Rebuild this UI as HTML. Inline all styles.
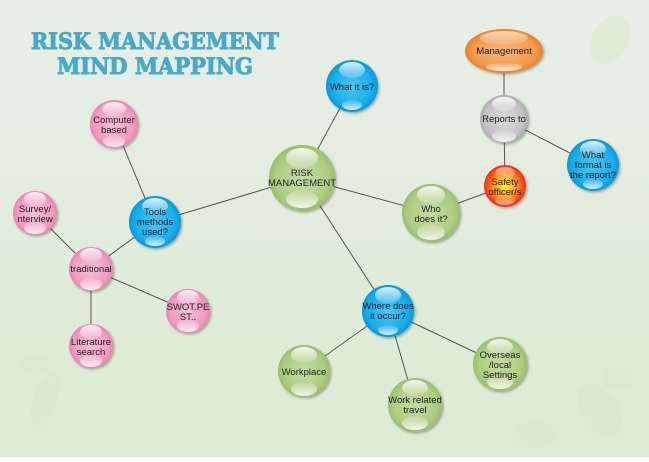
<!DOCTYPE html>
<html><head><meta charset="utf-8"><style>
html,body{margin:0;padding:0;}
body{width:649px;height:457px;overflow:hidden;}
svg text{font-family:"Liberation Sans",sans-serif;font-size:9.5px;fill:#222;text-anchor:middle;}
</style></head><body>
<svg width="649" height="457" viewBox="0 0 649 457" xmlns="http://www.w3.org/2000/svg">
<defs>
<linearGradient id="bg" x1="0" y1="0" x2="0" y2="1"><stop offset="0" stop-color="#e7efe7"/><stop offset="1" stop-color="#dcebd3"/></linearGradient>
<radialGradient id="gPink" cx="0.5" cy="0.5" r="0.5"><stop offset="0" stop-color="#f7bfd7"/><stop offset="0.8" stop-color="#f19cc0"/><stop offset="1" stop-color="#e985b0"/></radialGradient>
<radialGradient id="gBlue" cx="0.5" cy="0.5" r="0.5"><stop offset="0" stop-color="#4cc6f5"/><stop offset="0.8" stop-color="#17acec"/><stop offset="1" stop-color="#0a97d8"/></radialGradient>
<radialGradient id="gGreen" cx="0.5" cy="0.5" r="0.5"><stop offset="0" stop-color="#c6dca2"/><stop offset="0.8" stop-color="#afcc82"/><stop offset="1" stop-color="#9cbd6c"/></radialGradient>
<radialGradient id="gGray" cx="0.5" cy="0.5" r="0.5"><stop offset="0" stop-color="#dcdcdc"/><stop offset="0.8" stop-color="#c4c4c4"/><stop offset="1" stop-color="#adadad"/></radialGradient>
<radialGradient id="gOrange" cx="0.5" cy="0.5" r="0.5"><stop offset="0" stop-color="#f8b57a"/><stop offset="0.8" stop-color="#f39a4e"/><stop offset="1" stop-color="#e8822e"/></radialGradient>
<radialGradient id="gRed" cx="0.5" cy="0.5" r="0.5"><stop offset="0" stop-color="#fff23a"/><stop offset="0.5" stop-color="#ffa020"/><stop offset="1" stop-color="#ee2a1a"/></radialGradient>
<linearGradient id="hl" x1="0" y1="0" x2="0" y2="1"><stop offset="0" stop-color="#fff" stop-opacity="0.85"/><stop offset="1" stop-color="#fff" stop-opacity="0.15"/></linearGradient>
<linearGradient id="hl2" x1="0" y1="0" x2="0" y2="1"><stop offset="0" stop-color="#fff" stop-opacity="0.1"/><stop offset="1" stop-color="#fff" stop-opacity="0.85"/></linearGradient>
<filter id="sh" x="-20%" y="-20%" width="140%" height="140%"><feDropShadow dx="1.5" dy="1.5" stdDeviation="1.2" flood-color="#000" flood-opacity="0.3"/></filter>
</defs>
<rect width="649" height="457" fill="url(#bg)"/>
<g fill="#d6e8c8" opacity="0.45">
<ellipse cx="610" cy="40" rx="18" ry="26" transform="rotate(30 610 40)"/>
<ellipse cx="45" cy="400" rx="12" ry="28" transform="rotate(20 45 400)"/>
<ellipse cx="35" cy="365" rx="14" ry="10"/>
<ellipse cx="600" cy="410" rx="18" ry="30" transform="rotate(-35 600 410)"/>
<ellipse cx="535" cy="435" rx="22" ry="13"/>
<ellipse cx="617" cy="378" rx="16" ry="11"/>
</g>
<text x="155" y="49" style="font-family:'DejaVu Serif',serif;font-size:22px;font-weight:bold;fill:#4aa9c6;stroke:#4aa9c6;stroke-width:1" textLength="248" lengthAdjust="spacingAndGlyphs">RISK MANAGEMENT</text>
<text x="155" y="74" style="font-family:'DejaVu Serif',serif;font-size:22px;font-weight:bold;fill:#4aa9c6;stroke:#4aa9c6;stroke-width:1" textLength="196" lengthAdjust="spacingAndGlyphs">MIND MAPPING</text>
<g stroke="#555" stroke-width="1">
<line x1="302" y1="178" x2="352" y2="86"/>
<line x1="302" y1="178" x2="155" y2="222"/>
<line x1="302" y1="178" x2="431" y2="213"/>
<line x1="302" y1="178" x2="388" y2="311"/>
<line x1="155" y1="222" x2="114" y2="124"/>
<line x1="155" y1="222" x2="91" y2="269"/>
<line x1="91" y1="269" x2="35" y2="213"/>
<line x1="91" y1="269" x2="188" y2="311"/>
<line x1="91" y1="269" x2="91" y2="346"/>
<line x1="388" y1="311" x2="304" y2="371"/>
<line x1="388" y1="311" x2="415" y2="405"/>
<line x1="388" y1="311" x2="500" y2="364"/>
<line x1="431" y1="213" x2="505" y2="186"/>
<line x1="505" y1="186" x2="504" y2="119"/>
<line x1="504" y1="119" x2="504" y2="51"/>
<line x1="504" y1="119" x2="593" y2="165"/>
</g>
<g>
<g><circle cx="352" cy="86" r="26" fill="url(#gBlue)" filter="url(#sh)"/><ellipse cx="352" cy="70" rx="13" ry="8" fill="url(#hl)"/><ellipse cx="352" cy="105" rx="10" ry="5" fill="url(#hl2)"/><text x="352" y="90">What it is?</text></g>
<g><circle cx="114" cy="124" r="24" fill="url(#gPink)" filter="url(#sh)"/><ellipse cx="114" cy="109" rx="12" ry="7" fill="url(#hl)"/><ellipse cx="114" cy="141" rx="11" ry="6" fill="url(#hl2)"/><text x="114" y="123">Computer</text><text x="114" y="133">based</text></g>
<g><circle cx="302" cy="178" r="33" fill="url(#gGreen)" filter="url(#sh)"/><ellipse cx="302" cy="158" rx="16" ry="10" fill="url(#hl)"/><ellipse cx="302" cy="199" rx="16" ry="9" fill="url(#hl2)"/><text x="302" y="176">RISK</text><text x="302" y="186">MANAGEMENT</text></g>
<g><circle cx="155" cy="222" r="26" fill="url(#gBlue)" filter="url(#sh)"/><ellipse cx="155" cy="206" rx="13" ry="8" fill="url(#hl)"/><ellipse cx="155" cy="241" rx="10" ry="5" fill="url(#hl2)"/><text x="155" y="215">Tools</text><text x="155" y="225">methods</text><text x="155" y="235">used?</text></g>
<g><circle cx="35" cy="213" r="22" fill="url(#gPink)" filter="url(#sh)"/><ellipse cx="35" cy="199" rx="11" ry="7" fill="url(#hl)"/><ellipse cx="35" cy="228" rx="11" ry="6" fill="url(#hl2)"/><text x="35" y="212">Survey/</text><text x="35" y="222">nterview</text></g>
<g><circle cx="91" cy="269" r="22" fill="url(#gPink)" filter="url(#sh)"/><ellipse cx="91" cy="255" rx="11" ry="7" fill="url(#hl)"/><ellipse cx="91" cy="284" rx="11" ry="6" fill="url(#hl2)"/><text x="91" y="272">traditional</text></g>
<g><circle cx="188" cy="311" r="22" fill="url(#gPink)" filter="url(#sh)"/><ellipse cx="188" cy="297" rx="11" ry="7" fill="url(#hl)"/><ellipse cx="188" cy="326" rx="11" ry="6" fill="url(#hl2)"/><text x="188" y="310">SWOT.PE</text><text x="188" y="320">ST..</text></g>
<g><circle cx="91" cy="346" r="22" fill="url(#gPink)" filter="url(#sh)"/><ellipse cx="91" cy="332" rx="11" ry="7" fill="url(#hl)"/><ellipse cx="91" cy="361" rx="11" ry="6" fill="url(#hl2)"/><text x="91" y="345">Literature</text><text x="91" y="355">search</text></g>
<g><circle cx="388" cy="311" r="26" fill="url(#gBlue)" filter="url(#sh)"/><ellipse cx="388" cy="295" rx="13" ry="8" fill="url(#hl)"/><ellipse cx="388" cy="330" rx="10" ry="5" fill="url(#hl2)"/><text x="388" y="309">Where does</text><text x="388" y="319">it occur?</text></g>
<g><circle cx="304" cy="371" r="26" fill="url(#gGreen)" filter="url(#sh)"/><ellipse cx="304" cy="355" rx="13" ry="8" fill="url(#hl)"/><ellipse cx="304" cy="389" rx="13" ry="7" fill="url(#hl2)"/><text x="304" y="375">Workplace</text></g>
<g><circle cx="415" cy="405" r="27" fill="url(#gGreen)" filter="url(#sh)"/><ellipse cx="415" cy="388" rx="13" ry="8" fill="url(#hl)"/><ellipse cx="415" cy="423" rx="13" ry="7" fill="url(#hl2)"/><text x="415" y="403">Work related</text><text x="415" y="413">travel</text></g>
<g><circle cx="500" cy="364" r="27" fill="url(#gGreen)" filter="url(#sh)"/><ellipse cx="500" cy="347" rx="13" ry="8" fill="url(#hl)"/><ellipse cx="500" cy="382" rx="13" ry="7" fill="url(#hl2)"/><text x="500" y="358">Overseas</text><text x="500" y="368">/local</text><text x="500" y="378">Settings</text></g>
<g><circle cx="431" cy="213" r="29" fill="url(#gGreen)" filter="url(#sh)"/><ellipse cx="431" cy="195" rx="14" ry="9" fill="url(#hl)"/><ellipse cx="431" cy="232" rx="14" ry="8" fill="url(#hl2)"/><text x="431" y="212">Who</text><text x="431" y="222">does it?</text></g>
<g><circle cx="505" cy="186" r="21" fill="url(#gRed)" filter="url(#sh)"/><ellipse cx="505" cy="173" rx="10" ry="6" fill="url(#hl)" opacity="0.6"/><ellipse cx="505" cy="200" rx="10" ry="5" fill="url(#hl2)" opacity="0.6"/><text x="505" y="185">Safety</text><text x="505" y="195">officer/s</text></g>
<g><circle cx="504" cy="119" r="24" fill="url(#gGray)" filter="url(#sh)"/><ellipse cx="504" cy="104" rx="12" ry="7" fill="url(#hl)"/><ellipse cx="504" cy="136" rx="12" ry="6" fill="url(#hl2)"/><text x="504" y="122">Reports to</text></g>
<g><ellipse cx="504" cy="51" rx="39" ry="22" fill="url(#gOrange)" filter="url(#sh)"/><ellipse cx="504" cy="38" rx="24" ry="7" fill="url(#hl)" opacity="0.7"/><ellipse cx="504" cy="67" rx="18" ry="4" fill="url(#hl2)"/><text x="504" y="54">Management</text></g>
<g><circle cx="593" cy="165" r="26" fill="url(#gBlue)" filter="url(#sh)"/><ellipse cx="593" cy="149" rx="13" ry="8" fill="url(#hl)"/><ellipse cx="593" cy="184" rx="10" ry="5" fill="url(#hl2)"/><text x="593" y="158">What</text><text x="593" y="168">format is</text><text x="593" y="178">the report?</text></g>
</g>
</svg>
</body></html>
